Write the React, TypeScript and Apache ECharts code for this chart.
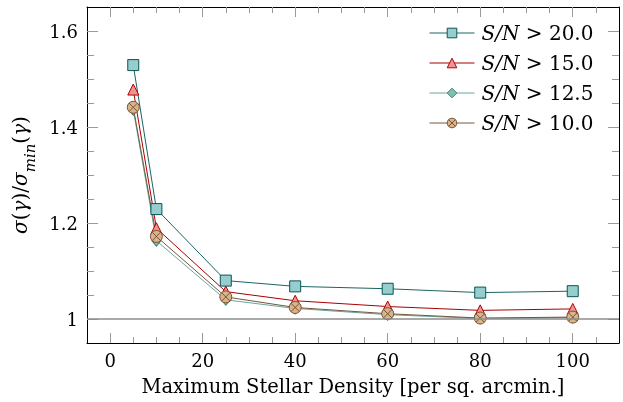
import React, { useEffect, useRef } from "react";
import * as echarts from "echarts";

const densities = [5, 10, 25, 40, 60, 80, 100];
const sn20 = [1.529, 1.229, 1.08, 1.068, 1.063, 1.055, 1.058];
const sn15 = [1.478, 1.189, 1.057, 1.038, 1.026, 1.018, 1.021];
const sn125 = [1.436, 1.163, 1.04, 1.022, 1.009, 1.001, 1.003];
const sn10 = [1.441, 1.172, 1.046, 1.024, 1.011, 1.002, 1.004];
const seriesNames = ["S/N > 20.0", "S/N > 15.0", "S/N > 12.5", "S/N > 10.0"];
const xMajor = [0, 20, 40, 60, 80, 100];
const xMinor = [5, 10, 15, 25, 30, 35, 45, 50, 55, 65, 70, 75, 85, 90, 95, 105];
const yMajor = [1.0, 1.2, 1.4, 1.6];
const yMinor = [1.05, 1.1, 1.15, 1.25, 1.3, 1.35, 1.45, 1.5, 1.55];
const refLine = 1.0;

const FONT = "DejaVu Serif";
const TICK = "#9a9a9a";
const otimes =
  "path://M10,0A10,10 0 1 1 -10,0A10,10 0 1 1 10,0Z M-7.07,-7.07L7.07,7.07M-7.07,7.07L7.07,-7.07";

const pairs = (ys: number[]) => densities.map((x, i) => [x, ys[i]]);

export default function App() {
  const ref = useRef<HTMLDivElement>(null);
  useEffect(() => {
    document.body.style.margin = "0";
    const chart = echarts.init(ref.current!, null, { renderer: "svg" });
    const xBase = (pos: string, major: boolean, showLine: boolean, extra: any = {}) => ({
      type: "value",
      position: pos,
      min: -5,
      max: 110,
      gridIndex: 0,
      axisLine: { show: showLine, onZero: false, lineStyle: { color: "#000", width: 1 } },
      axisTick: {
        show: true,
        inside: true,
        length: major ? 10 : 6,
        customValues: major ? xMajor : xMinor,
        lineStyle: { color: TICK, width: 1 },
      },
      axisLabel: { show: false },
      splitLine: { show: false },
      ...extra,
    });
    const yBase = (pos: string, major: boolean, showLine: boolean, extra: any = {}) => ({
      type: "value",
      position: pos,
      min: 0.95,
      max: 1.65,
      gridIndex: 0,
      axisLine: { show: showLine, onZero: false, lineStyle: { color: "#000", width: 1 } },
      axisTick: {
        show: true,
        inside: true,
        length: major ? 11 : 7,
        customValues: major ? yMajor : yMinor,
        lineStyle: { color: TICK, width: 1 },
      },
      axisLabel: { show: false },
      splitLine: { show: false },
      ...extra,
    });
    const line = (
      name: string,
      ys: number[],
      symbol: string,
      size: any,
      fill: string,
      border: string,
      lineColor: string
    ) => ({
      type: "line",
      name,
      data: pairs(ys),
      symbol,
      symbolSize: size,
      showSymbol: true,
      color: lineColor,
      lineStyle: { color: lineColor, width: 1 },
      itemStyle: { color: fill, borderColor: border, borderWidth: 1 },
      emphasis: { disabled: true },
    });
    chart.setOption({
      animation: false,
      grid: { left: 87, right: 4, top: 7, bottom: 59, containLabel: false },
      textStyle: { fontFamily: FONT },
      xAxis: [
        xBase("bottom", true, true, {
          axisLabel: {
            show: true,
            customValues: xMajor,
            fontFamily: FONT,
            fontSize: 18,
            color: "#000",
            margin: 8,
          },
          name: "Maximum Stellar Density [per sq. arcmin.]",
          nameLocation: "middle",
          nameGap: 33,
          nameTextStyle: { fontFamily: FONT, fontSize: 19.5, color: "#000" },
        }),
        xBase("top", true, true),
        xBase("bottom", false, false),
        xBase("top", false, false),
      ],
      yAxis: [
        yBase("left", true, true, {
          axisLabel: {
            show: true,
            customValues: yMajor,
            fontFamily: FONT,
            fontSize: 18,
            color: "#000",
            margin: 9,
          },
          name: "{it|σ}{rm|(}{it|γ}{rm|)/}{it|σ}{sub|min}{rm|(}{it|γ}{rm|)}",
          nameLocation: "middle",
          nameGap: 54,
          nameRotate: 90,
          nameTextStyle: {
            rich: {
              it: { fontFamily: FONT, fontStyle: "italic", fontSize: 20, color: "#000", lineHeight: 26 },
              rm: { fontFamily: FONT, fontSize: 20, color: "#000", lineHeight: 26 },
              sub: {
                fontFamily: FONT,
                fontStyle: "italic",
                fontSize: 15,
                color: "#000",
                lineHeight: 26,
                verticalAlign: "bottom",
                padding: [0, 0, -4, 0],
              },
            },
          },
        }),
        yBase("right", true, true),
        yBase("left", false, false),
        yBase("right", false, false),
      ],
      legend: {
        orient: "vertical",
        left: 429,
        top: 23,
        padding: 0,
        itemWidth: 45,
        itemHeight: 12,
        itemGap: 10,
        data: seriesNames,
        lineStyle: { width: 1 },
        itemStyle: { borderWidth: 1 },
        formatter: (n: string) => "{it|S/N}{rm| > " + n.split("> ")[1] + "}",
        textStyle: {
          rich: {
            it: { fontFamily: FONT, fontStyle: "italic", fontSize: 20, color: "#000", lineHeight: 22, padding: [0, 0, 0, 2] },
            rm: { fontFamily: FONT, fontSize: 20, color: "#000", lineHeight: 22 },
          },
        },
      },
      series: [
        {
          type: "line",
          name: "ref",
          data: [],
          silent: true,
          markLine: {
            silent: true,
            symbol: "none",
            label: { show: false },
            lineStyle: { color: "#8c8c8c", width: 1.5, type: "solid" },
            data: [{ yAxis: refLine }],
          },
        },
        line(seriesNames[0], sn20, "rect", 11, "#96cdcd", "#0b5555", "#1b6464"),
        line(seriesNames[1], sn15, "triangle", 11, "#f29393", "#b30000", "#a80000"),
        line(seriesNames[2], sn125, "diamond", [9, 11], "#80bfb2", "#3f7f74", "#6aa79c"),
        line(seriesNames[3], sn10, otimes, 12, "#d8b48c", "#7b5233", "#73583c"),
      ],
    });
    return () => chart.dispose();
  }, []);
  return <div ref={ref} style={{ position: "fixed", left: 0, top: 0, width: 623, height: 402 }} />;
}
